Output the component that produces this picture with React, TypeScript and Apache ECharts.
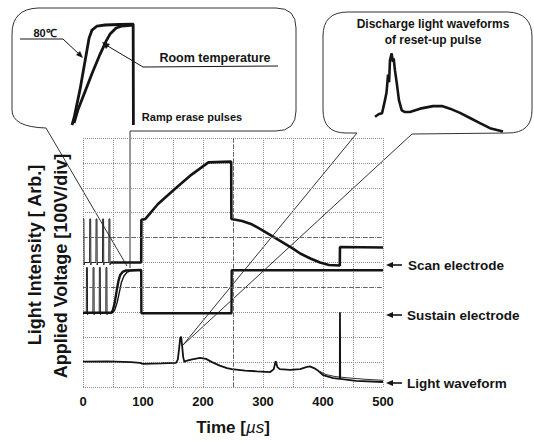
import React, { useEffect, useRef } from "react";
import * as echarts from "echarts";

// ---------- data (time in µs, level in divisions) ----------
const xTickLabels = [0, 100, 200, 300, 400, 500];

const scanPulses: number[][] = [
  [0, 6.75], [1.5, 6.75], [1.8, 4.9], [2.5, 5.0], [11, 5.0], [11.3, 6.75], [12.8, 6.75], [13.1, 4.9], [13.8, 5.0],
  [21.5, 5.0], [21.8, 6.75], [23.3, 6.75], [23.6, 4.9], [24.3, 5.0], [32.5, 5.0], [32.8, 6.75], [34.3, 6.75],
  [34.6, 4.9], [35.3, 5.0], [43, 5.0], [43.3, 6.75], [44.8, 6.75], [45.1, 4.9], [46, 5.0],
];

const scanElectrode: number[][] = [
  [46, 5.0], [97, 5.0],
  [97.3, 6.72], [104, 6.75], [125, 7.35], [153, 7.95], [181, 8.53], [209, 9.02], [247, 9.05], [247.3, 6.75],
  [252, 6.73], [265, 6.67], [280, 6.55], [295, 6.35], [323, 5.95], [350, 5.56], [362, 5.36], [380, 5.15],
  [395, 5.0], [410, 4.9], [428, 4.88], [428.3, 5.62], [500, 5.6],
];

const sustainPulses: number[][] = [
  [0, 2.98], [5.5, 2.98], [5.8, 4.8], [7.3, 4.8], [7.6, 2.9], [8.3, 2.98], [16.5, 2.98], [16.8, 4.8], [18.3, 4.8],
  [18.6, 2.9], [19.3, 2.98], [27, 2.98], [27.3, 4.8], [28.8, 4.8], [29.1, 2.9], [29.8, 2.98], [38, 2.98],
  [38.3, 4.8], [39.8, 4.8], [40.1, 2.9], [40.8, 2.98], [47, 2.98],
];

const sustainElectrode: number[][] = [
  [0, 2.98], [47, 2.98], [50, 3.1], [53, 3.4], [56, 3.85], [59, 4.25],
  [62, 4.5], [66, 4.62], [72, 4.68], [97, 4.7], [97.3, 2.96], [247.5, 2.96], [247.8, 4.69], [500, 4.69],
];

const eraseRoomTemp: number[][] = [
  [47, 2.98], [50, 2.99], [53, 3.1], [57, 3.4], [61, 3.85], [64, 4.2], [68, 4.45], [73, 4.6], [80, 4.67], [97, 4.7],
];

const lightWaveform: number[][] = [
  [0, 1.02], [40, 1.03], [80, 1.0], [95, 0.97], [100, 0.93], [130, 0.95], [155, 0.97], [158, 1.1], [160, 1.5],
  [162, 1.95], [163.5, 2.02], [165, 1.7], [167, 1.2], [169, 1.0], [172, 1.05], [180, 1.1], [195, 1.17],
  [205, 1.13], [215, 1.0], [228, 0.86], [240, 0.76], [248, 0.72], [270, 0.66], [290, 0.63], [312, 0.6],
  [318, 0.72], [321, 1.04], [324, 0.8], [328, 0.72], [345, 0.69], [362, 0.72], [372, 0.8], [378, 0.83],
  [385, 0.76], [392, 0.65], [400, 0.48], [417, 0.36], [428, 0.33], [428.3, 3.0], [428.7, 0.33], [455, 0.25],
  [500, 0.2],
];

const lightWaveform2: number[][] = [
  [395, 0.62], [405, 0.5], [420, 0.42], [440, 0.37], [470, 0.31], [500, 0.27],
];

// inset: ramp erase pulses (time µs, normalised amplitude)
const inset80C: number[][] = [
  [45, 0], [46.7, 0.07], [51.7, 0.35], [56.8, 0.69], [59.3, 0.86], [61.8, 0.94], [66, 0.98], [72.7, 0.99],
  [96.3, 1.0], [96.5, 0],
];
const insetRoomTemp: number[][] = [
  [46.7, 0.02], [50, 0.15], [55.9, 0.33], [61.8, 0.51], [68.5, 0.7], [73.6, 0.83], [76.9, 0.9], [82, 0.96],
  [87, 0.98], [96.3, 0.99],
];

// inset: discharge light waveform of reset-up pulse
const insetLight: number[][] = [
  [150, 0.215], [153.1, 0.247], [155.5, 0.255], [157.8, 0.41], [159, 0.5], [160.2, 0.71], [161, 0.62],
  [161.7, 0.88], [163, 0.96], [164, 0.86], [164.6, 0.9], [165.6, 0.76], [167.2, 0.59], [168.7, 0.41],
  [170.9, 0.29], [173.4, 0.27], [177.3, 0.27], [185.2, 0.31], [195.3, 0.34], [202.3, 0.34], [208.6, 0.31],
  [216.4, 0.26], [224.2, 0.2], [232, 0.14], [239.8, 0.08], [250, 0.04],
];

// ---------- callout shapes ----------
const leftBubblePath =
  "M130 268 L130 131 L276 131 Q296 131 296 111 L296 28 Q296 8 276 8 L38 8 Q12 9 12 34 L12 110 Q12 127 46 128 L127 266";
const rightBubblePath =
  "M183 345 L357 133 L346 133 Q323 133 323 110 L323 36 Q323 12 348 12 L508 12 Q532 13 532 37 L532 110 Q532 133 508 133 L412 134 L183 345";

let registered = false;
function registerShapes() {
  if (registered) return;
  registered = true;
  echarts.graphic.registerShape("leftBubble", echarts.graphic.extendPath(leftBubblePath, {}) as any);
  echarts.graphic.registerShape("rightBubble", echarts.graphic.extendPath(rightBubblePath, {}) as any);
}

const FONT = "'Liberation Sans', Arial, sans-serif";
const INK = "#141414";

function txt(text: string, x: number, y: number, size: number, extra: any = {}) {
  return {
    type: "text",
    x,
    y,
    silent: true,
    ...extra,
    style: {
      text,
      fontFamily: FONT,
      fontWeight: "bold",
      fontSize: size,
      fill: INK,
      align: "center",
      verticalAlign: "middle",
      ...(extra.style || {}),
    },
  };
}

function leftArrow(x: number, y: number) {
  return [
    { type: "line", silent: true, shape: { x1: x + 6, y1: y, x2: x + 16, y2: y }, style: { stroke: INK, lineWidth: 1.6 } },
    {
      type: "polygon",
      silent: true,
      shape: { points: [[x, y], [x + 7, y - 3], [x + 7, y + 3]] },
      style: { fill: INK },
    },
  ];
}

export default function App() {
  const ref = useRef<HTMLDivElement>(null);

  useEffect(() => {
    if (!ref.current) return;
    registerShapes();
    const chart = echarts.init(ref.current, null, { renderer: "svg" });

    const lineBase = { type: "line", showSymbol: false, symbol: "none", silent: true, animation: false };

    chart.setOption({
      animation: false,
      backgroundColor: "#ffffff",
      grid: [
        { left: 83, top: 138, width: 300, height: 252 },
        { left: 72, top: 24, width: 62, height: 101 },
        { left: 375, top: 50, width: 128, height: 85 },
      ],
      xAxis: [
        {
          gridIndex: 0,
          type: "value",
          min: 0,
          max: 500,
          interval: 50,
          axisLine: { show: false },
          axisTick: { show: false },
          splitLine: { show: true, lineStyle: { type: "dotted", color: "#8c8c8c", width: 1 } },
          axisLabel: {
            margin: 8,
            fontFamily: FONT,
            fontWeight: "bold",
            fontSize: 13,
            color: INK,
            formatter: (v: number) => (xTickLabels.includes(v) ? String(v) : ""),
          },
          name: "Time [{i|µs}]",
          nameLocation: "middle",
          nameGap: 32,
          nameTextStyle: {
            fontFamily: FONT,
            fontWeight: "bold",
            fontSize: 17,
            color: INK,
            rich: { i: { fontFamily: FONT, fontStyle: "italic", fontWeight: "normal", fontSize: 17, color: INK } },
          },
        },
        { gridIndex: 1, type: "value", min: 45, max: 97, show: false },
        { gridIndex: 2, type: "value", min: 150, max: 250, show: false },
      ],
      yAxis: [
        {
          gridIndex: 0,
          type: "value",
          min: 0,
          max: 10,
          interval: 1,
          axisLine: { show: false },
          axisTick: { show: false },
          axisLabel: { show: false },
          splitLine: { show: true, lineStyle: { type: "dotted", color: "#8c8c8c", width: 1 } },
        },
        { gridIndex: 1, type: "value", min: 0, max: 1, show: false },
        { gridIndex: 2, type: "value", min: 0, max: 1, show: false },
      ],
      series: [
        {
          ...lineBase,
          name: "Light waveform (2)",
          data: lightWaveform2,
          lineStyle: { color: "#333", width: 1 },
        },
        {
          ...lineBase,
          name: "Light waveform",
          data: lightWaveform,
          lineStyle: { color: INK, width: 1.8 },
          markLine: {
            silent: true,
            symbol: "none",
            label: { show: false },
            lineStyle: { type: [4, 3], color: "#666", width: 1 },
            data: [{ xAxis: 250 }, { yAxis: 6 }, { yAxis: 4 }],
          },
        },
        {
          ...lineBase,
          name: "Erase (room temperature)",
          data: eraseRoomTemp,
          lineStyle: { color: INK, width: 1.4 },
        },
        {
          ...lineBase,
          name: "Sustain pulses",
          data: sustainPulses,
          lineStyle: { color: "#222", width: 1 },
        },
        {
          ...lineBase,
          name: "Sustain electrode",
          data: sustainElectrode,
          lineStyle: { color: INK, width: 2.4 },
        },
        {
          ...lineBase,
          name: "Scan pulses",
          data: scanPulses,
          lineStyle: { color: "#222", width: 1 },
        },
        {
          ...lineBase,
          name: "Scan electrode",
          data: scanElectrode,
          lineStyle: { color: INK, width: 2.6 },
        },
        {
          ...lineBase,
          name: "80℃",
          xAxisIndex: 1,
          yAxisIndex: 1,
          data: inset80C,
          lineStyle: { color: INK, width: 2.8 },
        },
        {
          ...lineBase,
          name: "Room temperature",
          xAxisIndex: 1,
          yAxisIndex: 1,
          data: insetRoomTemp,
          lineStyle: { color: INK, width: 2.8 },
        },
        {
          ...lineBase,
          name: "Discharge light",
          xAxisIndex: 2,
          yAxisIndex: 2,
          data: insetLight,
          lineStyle: { color: INK, width: 2.6 },
        },
      ],
      graphic: [
        { type: "leftBubble", x: 0, y: 0, silent: true, style: { fill: "none", stroke: "#333", lineWidth: 1 } },
        { type: "rightBubble", x: 0, y: 0, silent: true, style: { fill: "none", stroke: "#333", lineWidth: 1 } },
        // y-axis titles
        txt("Light Intensity [ Arb.]", 35, 255, 18, { rotation: Math.PI / 2 }),
        txt("Applied Voltage [100V/div]", 61, 266, 18, { rotation: Math.PI / 2 }),
        // left callout annotations
        txt("80℃", 45, 33, 11),
        {
          type: "polyline",
          silent: true,
          shape: { points: [[20, 39], [63, 39], [80, 55]] },
          style: { stroke: INK, lineWidth: 1, fill: "none" },
        },
        { type: "polygon", silent: true, shape: { points: [[83, 58], [76, 55], [80, 51]] }, style: { fill: INK } },
        txt("Room temperature", 215, 58, 12.5),
        {
          type: "polyline",
          silent: true,
          shape: { points: [[278, 66], [143, 67], [106, 45]] },
          style: { stroke: INK, lineWidth: 1, fill: "none" },
        },
        { type: "polygon", silent: true, shape: { points: [[102, 42], [110, 44], [106, 49]] }, style: { fill: INK } },
        txt("Ramp erase pulses", 192, 117, 11),
        // right callout title
        txt("Discharge light waveforms", 433, 24, 12),
        txt("of reset-up pulse", 433, 40, 12),
        // trace labels
        ...leftArrow(386, 265),
        txt("Scan electrode", 408, 265, 13.5, { style: { align: "left" } }),
        ...leftArrow(386, 315),
        txt("Sustain electrode", 407, 315, 13.5, { style: { align: "left" } }),
        ...leftArrow(386, 383),
        txt("Light waveform", 407, 383, 13.5, { style: { align: "left" } }),
      ],
    });

    return () => chart.dispose();
  }, []);

  return (
    <div
      ref={ref}
      style={{ position: "absolute", left: 0, top: 0, width: 534, height: 441, background: "#fff" }}
    />
  );
}
